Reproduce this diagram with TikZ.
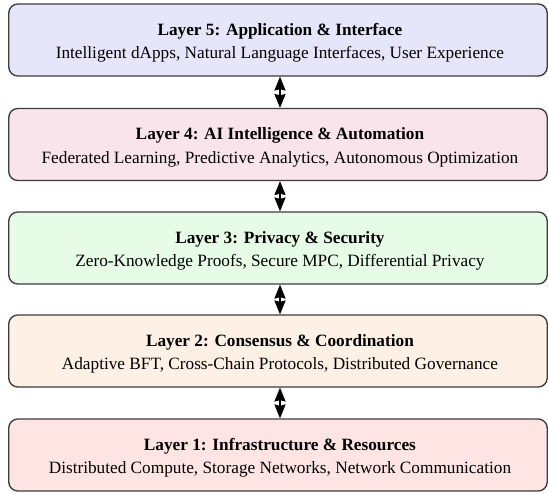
\documentclass[tikz,border=0pt]{standalone}
\usepackage{fontspec}
\setmainfont{Liberation Serif}
\usetikzlibrary{arrows.meta}
\definecolor{fillapp}{RGB}{230,230,250}
\definecolor{fillai}{RGB}{249,228,235}
\definecolor{fillpriv}{RGB}{230,252,230}
\definecolor{fillcons}{RGB}{254,240,228}
\definecolor{fillinfra}{RGB}{255,228,228}
\definecolor{edgegray}{RGB}{60,60,60}
\tikzset{
  layerbox/.style={draw=edgegray, line width=0.9pt, rounded corners=6pt,
    minimum width=359pt, minimum height=48pt},
  layertext/.style={align=center, inner sep=0pt,
    font=\fontsize{11.5pt}{15.5pt}\selectfont},
  link/.style={line width=0.7pt, {Stealth[length=9.3pt,width=7.5pt,inset=1pt]}-{Stealth[length=9.3pt,width=7.5pt,inset=1pt]}}
}
\begin{document}
\begin{tikzpicture}[x=0.6667pt, y=-0.6667pt]
  \useasboundingbox (0,0) rectangle (548,494);
  % layer boxes
  \node[layerbox, fill=fillapp]   (l5) at (278,40)    {};
  \node[layerbox, fill=fillai]    (l4) at (278,144.5) {};
  \node[layerbox, fill=fillpriv]  (l3) at (278,248)   {};
  \node[layerbox, fill=fillcons]  (l2) at (278,351)   {};
  \node[layerbox, fill=fillinfra] (l1) at (278,455)   {};
  % layer captions
  \node[layertext] (t5) at ([xshift=1.3pt,yshift=-2pt]l5.center)
    {\textbf{Layer 5: Application \& Interface}\\Intelligent dApps, Natural Language Interfaces, User Experience};
  \node[layertext] (t4) at ([xshift=1.3pt,yshift=-2pt]l4.center)
    {\textbf{Layer 4: AI Intelligence \& Automation}\\Federated Learning, Predictive Analytics, Autonomous Optimization};
  \node[layertext] (t3) at ([xshift=1.3pt,yshift=-2pt]l3.center)
    {\textbf{Layer 3: Privacy \& Security}\\Zero-Knowledge Proofs, Secure MPC, Differential Privacy};
  \node[layertext] (t2) at ([xshift=1.3pt,yshift=-2pt]l2.center)
    {\textbf{Layer 2: Consensus \& Coordination}\\Adaptive BFT, Cross-Chain Protocols, Distributed Governance};
  \node[layertext] (t1) at ([xshift=1.3pt,yshift=-2pt]l1.center)
    {\textbf{Layer 1: Infrastructure \& Resources}\\Distributed Compute, Storage Networks, Network Communication};
  % links between neighbouring layers
  \draw[link] (l5.south -| 280,0) -- (l4.north -| 280,0);
  \draw[link] (l4.south -| 280,0) -- (l3.north -| 280,0);
  \draw[link] (l3.south -| 280,0) -- (l2.north -| 280,0);
  \draw[link] (l2.south -| 280,0) -- (l1.north -| 280,0);
\end{tikzpicture}
\end{document}
